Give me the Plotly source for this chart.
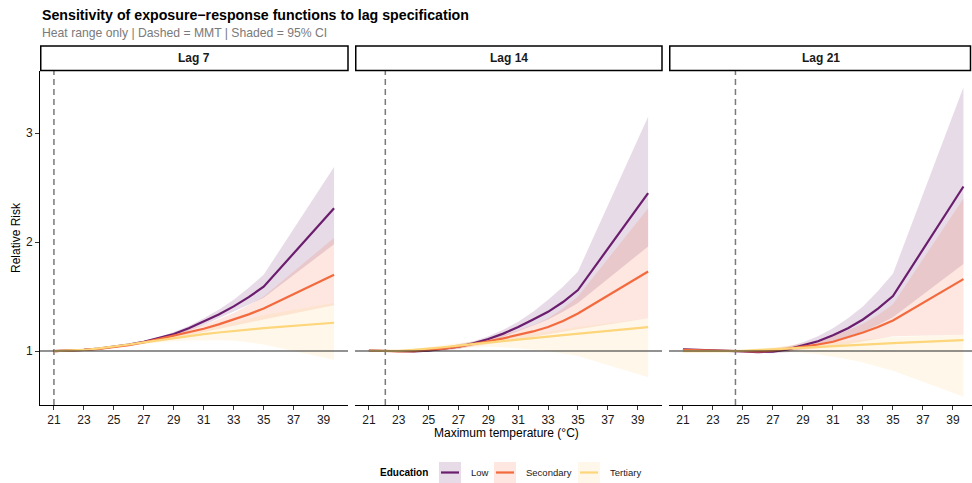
import plotly.graph_objects as go

# ---------------------------------------------------------------------------
# Data: relative risk (estimate, 95% CI) by maximum temperature, per lag model
# ---------------------------------------------------------------------------
temps = [21, 22, 23, 24, 25, 26, 27, 28, 29, 30, 31, 32, 33, 34, 35, 39.7]

lags = ["Lag 7", "Lag 14", "Lag 21"]
mmt = [21.0, 22.1, 24.5]          # minimum mortality temperature per lag
groups = ["Low", "Secondary", "Tertiary"]
colors = ["#6B1D6E", "#F26A3D", "#FDD57A"]

# Lag 7
lag7_low_rr = [1.0, 1.003, 1.01, 1.022, 1.04, 1.06, 1.085, 1.118, 1.156, 1.21, 1.27, 1.335, 1.41, 1.495, 1.59, 2.31]
lag7_low_lo = [1.0, 1.002, 1.008, 1.02, 1.035, 1.054, 1.075, 1.104, 1.137, 1.185, 1.24, 1.30, 1.36, 1.425, 1.49, 1.98]
lag7_low_hi = [1.0, 1.004, 1.012, 1.026, 1.045, 1.068, 1.095, 1.13, 1.175, 1.23, 1.30, 1.38, 1.47, 1.58, 1.70, 2.69]
lag7_sec_rr = [1.0, 1.003, 1.01, 1.02, 1.035, 1.055, 1.08, 1.11, 1.14, 1.17, 1.205, 1.245, 1.29, 1.337, 1.39, 1.70]
lag7_sec_lo = [1.0, 1.002, 1.008, 1.018, 1.03, 1.048, 1.07, 1.095, 1.12, 1.145, 1.17, 1.20, 1.23, 1.26, 1.29, 1.42]
lag7_sec_hi = [1.0, 1.003, 1.012, 1.024, 1.04, 1.063, 1.09, 1.123, 1.16, 1.198, 1.24, 1.293, 1.35, 1.42, 1.50, 2.04]
lag7_ter_rr = [1.0, 1.003, 1.01, 1.024, 1.04, 1.06, 1.08, 1.10, 1.12, 1.138, 1.155, 1.17, 1.185, 1.198, 1.21, 1.26]
lag7_ter_lo = [1.0, 1.002, 1.005, 1.017, 1.03, 1.048, 1.065, 1.08, 1.09, 1.097, 1.10, 1.10, 1.095, 1.08, 1.06, 0.92]
lag7_ter_hi = [1.0, 1.005, 1.015, 1.03, 1.05, 1.072, 1.095, 1.12, 1.145, 1.172, 1.20, 1.23, 1.26, 1.295, 1.33, 1.44]

# Lag 14
lag14_low_rr = [1.005, 1.0, 0.995, 0.996, 1.003, 1.02, 1.04, 1.07, 1.11, 1.16, 1.22, 1.29, 1.36, 1.45, 1.56, 2.45]
lag14_low_lo = [1.0, 1.0, 0.99, 0.988, 0.993, 1.005, 1.02, 1.05, 1.085, 1.13, 1.18, 1.235, 1.29, 1.36, 1.44, 1.96]
lag14_low_hi = [1.01, 1.0, 1.0, 1.005, 1.015, 1.035, 1.06, 1.09, 1.135, 1.195, 1.27, 1.36, 1.47, 1.59, 1.73, 3.15]
lag14_sec_rr = [1.005, 1.0, 0.998, 1.0, 1.008, 1.022, 1.04, 1.063, 1.09, 1.117, 1.147, 1.18, 1.22, 1.275, 1.345, 1.73]
lag14_sec_lo = [1.0, 1.0, 0.993, 0.99, 0.995, 1.007, 1.022, 1.04, 1.065, 1.085, 1.105, 1.125, 1.15, 1.175, 1.20, 1.30]
lag14_sec_hi = [1.01, 1.0, 1.003, 1.01, 1.02, 1.037, 1.058, 1.085, 1.115, 1.15, 1.19, 1.24, 1.30, 1.39, 1.50, 2.31]
lag14_ter_rr = [1.003, 1.0, 1.002, 1.01, 1.02, 1.035, 1.05, 1.065, 1.08, 1.093, 1.106, 1.12, 1.133, 1.146, 1.159, 1.22]
lag14_ter_lo = [0.998, 1.0, 0.995, 0.998, 1.003, 1.012, 1.025, 1.035, 1.04, 1.035, 1.025, 1.012, 1.0, 0.98, 0.955, 0.76]
lag14_ter_hi = [1.008, 1.0, 1.01, 1.022, 1.038, 1.055, 1.072, 1.09, 1.108, 1.125, 1.142, 1.16, 1.18, 1.20, 1.22, 1.30]

# Lag 21
lag21_low_rr = [1.015, 1.012, 1.008, 1.003, 0.997, 0.99, 0.995, 1.015, 1.05, 1.09, 1.145, 1.21, 1.29, 1.39, 1.505, 2.51]
lag21_low_lo = [1.005, 1.006, 1.004, 1.001, 0.994, 0.982, 0.98, 0.99, 1.02, 1.05, 1.085, 1.13, 1.18, 1.24, 1.31, 1.80]
lag21_low_hi = [1.025, 1.018, 1.012, 1.004, 1.0, 1.0, 1.012, 1.04, 1.08, 1.135, 1.21, 1.30, 1.41, 1.55, 1.71, 3.42]
lag21_sec_rr = [1.01, 1.006, 1.003, 1.001, 0.998, 0.996, 1.003, 1.02, 1.04, 1.06, 1.085, 1.125, 1.17, 1.22, 1.28, 1.66]
lag21_sec_lo = [1.0, 1.0, 0.999, 1.0, 0.993, 0.985, 0.985, 0.995, 1.01, 1.025, 1.04, 1.06, 1.085, 1.11, 1.135, 1.15]
lag21_sec_hi = [1.02, 1.012, 1.007, 1.002, 1.003, 1.01, 1.025, 1.045, 1.07, 1.10, 1.14, 1.19, 1.25, 1.33, 1.43, 2.40]
lag21_ter_rr = [1.0, 0.998, 0.997, 0.999, 1.003, 1.01, 1.017, 1.025, 1.033, 1.04, 1.047, 1.054, 1.06, 1.066, 1.072, 1.10]
lag21_ter_lo = [0.99, 0.99, 0.992, 0.997, 0.996, 0.995, 0.995, 0.993, 0.985, 0.97, 0.95, 0.925, 0.895, 0.86, 0.82, 0.58]
lag21_ter_hi = [1.008, 1.004, 1.002, 1.002, 1.01, 1.022, 1.035, 1.048, 1.06, 1.072, 1.085, 1.097, 1.11, 1.12, 1.13, 1.15]

series = {
    ("Lag 7", "Low"): (lag7_low_rr, lag7_low_lo, lag7_low_hi),
    ("Lag 7", "Secondary"): (lag7_sec_rr, lag7_sec_lo, lag7_sec_hi),
    ("Lag 7", "Tertiary"): (lag7_ter_rr, lag7_ter_lo, lag7_ter_hi),
    ("Lag 14", "Low"): (lag14_low_rr, lag14_low_lo, lag14_low_hi),
    ("Lag 14", "Secondary"): (lag14_sec_rr, lag14_sec_lo, lag14_sec_hi),
    ("Lag 14", "Tertiary"): (lag14_ter_rr, lag14_ter_lo, lag14_ter_hi),
    ("Lag 21", "Low"): (lag21_low_rr, lag21_low_lo, lag21_low_hi),
    ("Lag 21", "Secondary"): (lag21_sec_rr, lag21_sec_lo, lag21_sec_hi),
    ("Lag 21", "Tertiary"): (lag21_ter_rr, lag21_ter_lo, lag21_ter_hi),
}

x_ticks = list(range(21, 40, 2))
y_ticks = [1, 2, 3]

# ---------------------------------------------------------------------------
# Layout geometry (pixels)
# ---------------------------------------------------------------------------
W, H = 972, 483
TOP, BOTTOM = 71, 405
panel_px = [(40, 348), (355, 662), (669, 972)]
x_ranges = [[20.07, 40.63], [20.07, 40.63], [20.07, 40.27]]
y_range = [0.505, 3.57]
FONT = "Liberation Sans, Arial, Helvetica, sans-serif"
ALPHA = 0.16


def py(p):
    """Pixel row -> paper y (0 = panel bottom, 1 = panel top)."""
    return (BOTTOM - p) / (BOTTOM - TOP)


def px(p):
    return p / W


def rgba(hex_color, a):
    h = hex_color.lstrip("#")
    r, g, b = int(h[0:2], 16), int(h[2:4], 16), int(h[4:6], 16)
    return f"rgba({r},{g},{b},{a})"


fig = go.Figure()

for i, lag in enumerate(lags):
    xa = "x" if i == 0 else f"x{i + 1}"
    # confidence ribbons first
    for g, col in zip(groups, colors):
        rr, lo, hi = series[(lag, g)]
        fig.add_trace(go.Scatter(
            x=temps + temps[::-1], y=hi + lo[::-1],
            fill="toself", fillcolor=rgba(col, ALPHA),
            line=dict(width=0), mode="lines", hoverinfo="skip",
            showlegend=False, xaxis=xa, yaxis="y",
        ))
    # point estimates on top
    for g, col in zip(groups, colors):
        rr, lo, hi = series[(lag, g)]
        fig.add_trace(go.Scatter(
            x=temps, y=rr, mode="lines", name=g,
            line=dict(color=col, width=2.2),
            showlegend=False, xaxis=xa, yaxis="y",
        ))

axis_common = dict(
    tickvals=x_ticks, ticks="outside", ticklen=4, tickwidth=1, tickcolor="#333333",
    showline=True, linecolor="#000000", linewidth=1, showgrid=False, zeroline=False,
    tickfont=dict(family=FONT, size=12, color="#1a1a1a"), anchor="y",
)

layout_axes = {}
for i, ((a, b), rng) in enumerate(zip(panel_px, x_ranges)):
    key = "xaxis" if i == 0 else f"xaxis{i + 1}"
    layout_axes[key] = dict(axis_common, domain=[px(a), px(b)], range=rng)

shapes = []
annotations = []

for i, (lag, (a, b)) in enumerate(zip(lags, panel_px)):
    xa = "x" if i == 0 else f"x{i + 1}"
    # reference line at RR = 1
    shapes.append(dict(type="line", xref=f"{xa} domain", yref="y", x0=0, x1=1,
                       y0=1, y1=1, line=dict(color="#262626", width=1.1), layer="above"))
    # MMT marker
    shapes.append(dict(type="line", xref=xa, yref="y domain", x0=mmt[i], x1=mmt[i],
                       y0=0, y1=1, line=dict(color="#7a7a7a", width=1.5, dash="6px,4px"),
                       layer="below"))
    # facet strip
    shapes.append(dict(type="rect", xref="paper", yref="paper",
                       x0=px(a + 0.75), x1=px(min(b, W - 1.5)), y0=py(70.5), y1=py(46),
                       line=dict(color="#000000", width=1.5), fillcolor="#ffffff"))
    annotations.append(dict(text=f"<b>{lag}</b>", xref="paper", yref="paper",
                            x=px((a + b) / 2), y=py(58.5), showarrow=False,
                            xanchor="center", yanchor="middle",
                            font=dict(family=FONT, size=12, color="#1a1a1a")))

# titles
annotations.append(dict(text="<b>Sensitivity of exposure−response functions to lag specification</b>",
                        xref="paper", yref="paper", x=px(40), y=py(14.5), showarrow=False,
                        xanchor="left", yanchor="middle",
                        font=dict(family=FONT, size=14.2, color="#000000")))
annotations.append(dict(text="Heat range only | Dashed = MMT | Shaded = 95% CI",
                        xref="paper", yref="paper", x=px(40), y=py(33), showarrow=False,
                        xanchor="left", yanchor="middle",
                        font=dict(family=FONT, size=12.2, color="#7a7a7a")))
annotations.append(dict(text="Maximum temperature (°C)", xref="paper", yref="paper",
                        x=px(506), y=py(433), showarrow=False, xanchor="center",
                        yanchor="middle", font=dict(family=FONT, size=12, color="#000000")))
annotations.append(dict(text="Relative Risk", xref="paper", yref="paper",
                        x=px(16), y=py(238), showarrow=False, textangle=-90,
                        xanchor="center", yanchor="middle",
                        font=dict(family=FONT, size=12, color="#000000")))

# legend (keys built from the group/colour lists)
annotations.append(dict(text="<b>Education</b>", xref="paper", yref="paper",
                        x=px(378), y=py(472), showarrow=False, xanchor="left",
                        yanchor="middle", font=dict(family=FONT, size=10, color="#000000")))
key_x = [439, 494, 578]
for g, col, kx in zip(groups, colors, key_x):
    shapes.append(dict(type="rect", xref="paper", yref="paper",
                       x0=px(kx), x1=px(kx + 22), y0=py(483), y1=py(462),
                       line=dict(width=0), fillcolor=rgba(col, ALPHA)))
    shapes.append(dict(type="line", xref="paper", yref="paper",
                       x0=px(kx + 2), x1=px(kx + 20), y0=py(472.5), y1=py(472.5),
                       line=dict(color=col, width=2.2)))
    annotations.append(dict(text=g, xref="paper", yref="paper", x=px(kx + 30),
                            y=py(472.5), showarrow=False, xanchor="left", yanchor="middle",
                            font=dict(family=FONT, size=9.5, color="#1a1a1a")))

fig.update_layout(
    width=W, height=H,
    margin=dict(l=0, r=0, t=TOP, b=H - BOTTOM, pad=0),
    paper_bgcolor="#ffffff", plot_bgcolor="#ffffff",
    showlegend=False,
    yaxis=dict(range=y_range, tickvals=y_ticks, ticks="outside", ticklen=4, tickwidth=1,
               tickcolor="#333333", showline=True, linecolor="#000000", linewidth=1,
               showgrid=False, zeroline=False, anchor="x", domain=[0, 1],
               tickfont=dict(family=FONT, size=12, color="#1a1a1a")),
    shapes=shapes, annotations=annotations,
    **layout_axes,
)

fig.write_html("out.html")
